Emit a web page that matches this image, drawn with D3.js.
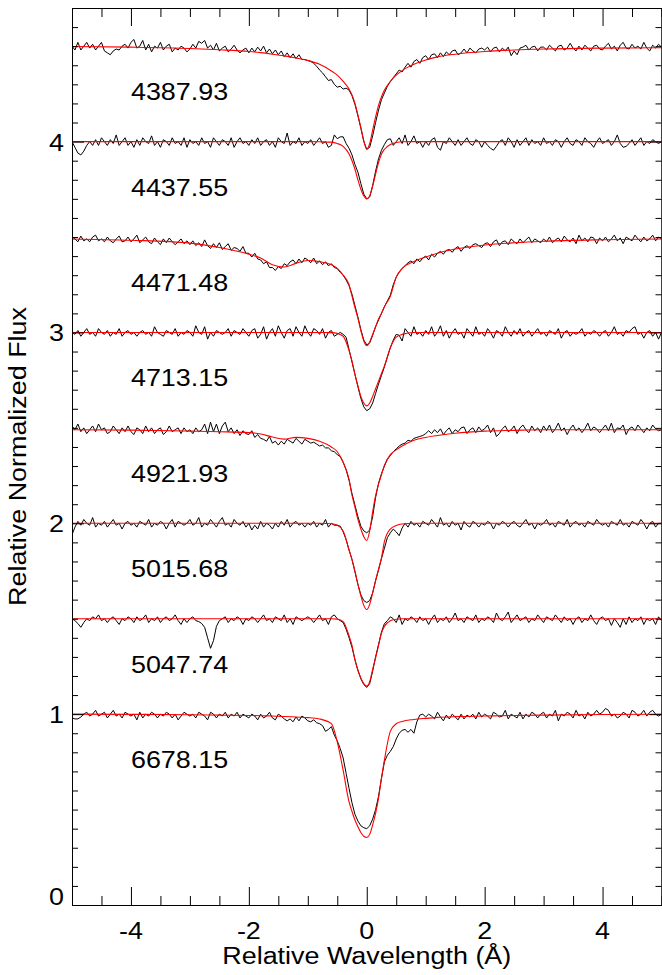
<!DOCTYPE html>
<html>
<head>
<meta charset="utf-8">
<script src="https://cdn.jsdelivr.net/npm/d3@7"></script>
<style>
  html, body { margin: 0; padding: 0; background: #fff; }
  svg { display: block; }
  text { font-family: "Liberation Sans", Arial, Helvetica, sans-serif; fill: #000; }
</style>
</head>
<body>
<script>
// ---------------- DATA ----------------
const lineLabels = ["4387.93", "4437.55", "4471.48", "4713.15", "4921.93", "5015.68", "5047.74", "6678.15"];
const levels = [4.5, 4.0, 3.5, 3.0, 2.5, 2.0, 1.5, 1.0];   // continuum level of each stacked profile

const xTickValues = [-4, -2, 0, 2, 4];
const yTickValues = [0, 1, 2, 3, 4];

// observed spectra: normalized flux sampled every 0.05 A from -5 to +5 (201 samples)
const obsStart = -5, obsStep = 0.05;

const obs4388 = [
  1.00, .98, 1.02, .98, 1.00, 1.02, .99, 1.01, .98, 1.00, 1.02, .975, .965, .955, .975, .985, .98, 1.00, 1.01, .99,
  1.02, 1.035, .99, 1.00, 1.03, .98, 1.01, .97, 1.00, .99, 1.02, .98, 1.00, 1.01, .97, .99, .98, 1.00, .99, .97,
  .985, 1.01, .99, 1.025, 1.015, 1.03, .99, 1.005, .98, 1.015, .975, .99, 1.00, .97, .985, 1.005, .98, .965, .98, .99,
  .965, .99, .97, .995, .975, 1.00, .965, .985, .96, .98, .955, .975, .945, .965, .94, .96, .935, .955, .93, .93,
  .925, .92, .91, .895, .875, .86, .84, .82, .825, .80, .785, .79, .775, .78, .77, .74, .695, .635, .57, .50,
  .46, .47, .53, .60, .665, .72, .755, .79, .815, .835, .855, .875, .865, .89, .91, .89, .92, .93, .91, .94,
  .95, .93, .955, .96, .94, .965, .945, .97, .955, .975, .98, .955, .965, .985, .965, .99, .975, .965, .985, .99,
  .98, .995, .97, .99, .995, .97, .99, .975, .995, .95, .975, .955, .99, .995, 1.005, .98, .995, 1.00, .975, .995,
  .995, .98, 1.005, .99, .975, 1.00, 1.005, .98, .99, 1.015, .99, .975, 1.00, .98, 1.005, .99, .975, 1.00, 1.005, .985,
  .98, 1.00, 1.015, .985, 1.00, .975, 1.005, 1.02, .99, .985, 1.01, .99, 1.00, .985, 1.02, .99, .975, 1.005, .99, 1.01,
  .995];

const obs4438 = [
  1.00, .97, .94, .93, .95, .98, 1.00, .98, 1.01, .98, 1.02, 1.00, .98, 1.01, .99, 1.035, .98, 1.00, 1.02, .98,
  1.00, .97, 1.01, .98, 1.02, 1.00, .99, 1.03, .98, 1.00, .97, 1.01, 1.00, .98, 1.02, .99, 1.00, .98, 1.02, .97,
  1.01, .99, 1.00, .98, 1.02, .99, 1.00, .97, 1.02, 1.00, .98, 1.01, 1.00, .98, 1.02, .97, 1.00, 1.02, .99, 1.00,
  .98, 1.01, .99, 1.02, .98, 1.00, 1.01, .98, 1.00, .97, 1.02, 1.00, .99, 1.045, .98, 1.00, .99, 1.02, .98, 1.00,
  .99, 1.01, .98, 1.00, 1.02, .99, 1.00, .97, .98, 1.035, 1.015, 1.025, 1.025, .99, .965, .93, .88, .84, .78, .725,
  .70, .71, .77, .845, .91, .955, .985, 1.01, 1.015, .98, 1.00, 1.02, .99, 1.035, .98, 1.00, 1.03, .99, 1.00, .97,
  1.00, .98, 1.01, 1.02, .97, .955, 1.00, .99, 1.02, 1.00, .98, 1.01, .98, 1.00, 1.02, .99, .98, 1.01, 1.00, .97,
  1.00, .98, .965, .955, .975, 1.00, 1.01, .98, 1.02, 1.00, .97, 1.01, .98, 1.00, 1.02, .98, 1.01, .99, 1.00, .98,
  1.02, .99, 1.00, .98, 1.01, 1.00, .97, 1.00, 1.02, .99, .98, 1.01, 1.00, .98, 1.02, 1.00, .99, .97, 1.00, 1.02,
  .99, 1.00, 1.01, .98, 1.00, 1.035, .99, .97, .975, .99, 1.01, .98, 1.00, 1.02, .98, 1.00, .99, 1.01, 1.00, .99,
  1.00];

const obs4471 = [
  1.00, .99, .975, 1.005, .98, .99, .975, 1.00, 1.01, .98, .99, .975, 1.00, .98, .97, .99, 1.005, .975, .98, 1.00,
  .975, .99, 1.01, .97, .985, 1.00, .975, .965, .995, .975, .96, .99, .97, .995, .975, .96, .975, .99, .965, .98,
  .96, .98, .955, .97, .95, .985, .955, .94, .965, .945, .97, .935, .95, .965, .93, .945, .94, .925, .95, .915,
  .915, .895, .915, .885, .88, .86, .87, .84, .84, .825, .845, .835, .86, .85, .87, .88, .86, .885, .865, .89,
  .88, .865, .89, .86, .875, .855, .87, .85, .86, .84, .835, .815, .80, .775, .745, .70, .64, .58, .515, .46,
  .435, .445, .485, .53, .565, .60, .635, .665, .695, .75, .79, .815, .835, .85, .865, .875, .86, .885, .87, .89,
  .90, .88, .91, .895, .915, .925, .91, .93, .935, .92, .94, .95, .925, .945, .955, .94, .96, .965, .955, .945,
  .965, .97, .95, .975, .985, .955, .975, .98, .96, .99, .975, .965, .99, .97, .985, 1.00, .97, .99, .98, .97,
  .99, .975, 1.00, .97, .985, .995, .975, 1.005, .985, .975, .995, .965, 1.01, .98, .995, .975, 1.00, .995, .965, .995,
  .98, 1.00, .975, .99, 1.01, .98, .995, .965, 1.00, .99, .98, 1.01, .99, .975, 1.00, .98, .99, 1.01, .98, 1.00,
  .99];

const obs4713 = [
  1.00, .99, 1.01, .98, 1.00, 1.02, .99, 1.00, .98, 1.02, 1.00, .99, 1.01, .98, 1.00, .99, 1.02, .98, 1.00, 1.01,
  .99, 1.00, .98, 1.00, 1.01, .99, 1.00, .98, 1.03, 1.00, .99, .98, 1.01, 1.00, .99, 1.02, .98, 1.00, .99, 1.01,
  1.00, .98, 1.035, 1.00, .99, 1.03, .965, 1.00, .98, 1.01, 1.00, .99, 1.00, 1.02, .98, 1.01, 1.00, .99, 1.02, 1.00,
  .98, 1.01, 1.02, .97, .99, 1.03, .965, 1.00, 1.02, .98, 1.035, 1.00, .97, 1.01, 1.02, .98, 1.03, 1.00, .98, 1.035,
  1.00, .98, 1.02, 1.01, .99, 1.02, .97, 1.00, 1.01, .98, .99, 1.00, .99, .975, .91, .845, .78, .715, .655, .61,
  .59, .60, .63, .68, .73, .775, .82, .87, .92, .96, .99, .985, .955, 1.02, 1.00, .98, 1.03, .99, 1.00, .98,
  1.01, .99, 1.03, .98, 1.00, 1.035, .98, 1.01, .97, 1.00, 1.02, .99, 1.00, .97, 1.02, 1.00, .98, 1.03, .99, 1.00,
  .98, 1.02, 1.00, .97, 1.01, 1.00, .98, 1.03, 1.00, .98, 1.01, .99, 1.02, .98, 1.00, 1.01, .98, 1.00, 1.02, .99,
  1.00, .98, 1.01, 1.00, .99, 1.02, .97, 1.00, 1.01, .98, 1.00, .99, 1.00, 1.02, .98, 1.00, .99, 1.01, 1.00, .98,
  1.00, 1.01, .98, 1.00, 1.03, .99, 1.00, .98, 1.01, 1.00, 1.02, 1.03, .99, 1.00, .97, 1.00, 1.01, .98, 1.00, .965,
  1.00];

const obs4922 = [
  1.01, .99, 1.02, .98, 1.00, .97, .99, 1.01, .98, 1.02, .99, 1.00, .97, .98, 1.01, .99, .97, 1.00, .98, 1.01,
  .98, .965, 1.00, .99, .97, 1.01, .98, 1.00, .97, .99, 1.00, .965, .98, 1.01, .98, .99, 1.00, .97, 1.00, .98,
  .99, .97, 1.00, .98, .99, 1.02, .97, 1.03, .98, 1.02, .97, 1.01, 1.03, .98, 1.00, .97, .99, .96, .985, .97,
  .965, .985, .95, .965, .945, .94, .93, .955, .92, .93, .91, .93, .915, .94, .93, .92, .945, .93, .915, .94,
  .93, .92, .925, .915, .905, .91, .895, .895, .88, .875, .86, .85, .82, .78, .725, .655, .595, .535, .485, .46,
  .45, .465, .535, .635, .71, .76, .80, .835, .855, .875, .89, .905, .915, .92, .935, .93, .945, .95, .955, .96,
  .97, .985, .97, .99, .975, .995, .965, .985, 1.00, .97, .99, .98, 1.00, 1.005, .97, .99, 1.00, .975, 1.005, .985,
  .995, 1.015, .975, 1.00, .955, .97, .995, 1.01, .98, .99, 1.01, .97, 1.00, 1.015, .99, .975, 1.01, .985, 1.00, .975,
  1.01, .985, 1.015, .975, .995, 1.025, .985, 1.00, .965, .995, 1.015, .985, 1.00, .975, .995, 1.025, .985, 1.005, .995, .975,
  .995, 1.015, .985, 1.025, .975, 1.00, .995, 1.015, .965, .995, 1.005, .985, 1.015, .995, .975, 1.00, .985, 1.015, .995, .985,
  .99];

const obs5016 = [
  .94, .98, 1.01, .99, 1.02, 1.00, .99, 1.03, .98, 1.00, .99, 1.01, .98, 1.00, 1.02, .99, 1.00, .97, 1.00, 1.01,
  .99, 1.00, .98, 1.01, 1.00, .99, 1.02, .98, 1.00, .99, 1.01, 1.00, .97, 1.00, 1.02, .98, 1.01, 1.00, .99, 1.00,
  1.02, .99, 1.00, 1.03, .98, 1.00, .99, 1.02, 1.00, .98, 1.01, 1.03, .99, 1.00, .98, 1.02, 1.00, .99, 1.01, .98,
  1.00, .965, .99, .97, 1.01, .98, 1.00, .99, .97, 1.00, .98, 1.01, .99, 1.02, .98, 1.00, 1.01, .99, 1.00, .98,
  1.00, .99, 1.01, .98, 1.00, .99, 1.02, .98, 1.00, .99, .99, .985, .955, .915, .86, .81, .745, .68, .625, .595,
  .585, .595, .635, .70, .755, .815, .87, .925, .95, .97, .955, .935, .975, 1.00, .98, 1.01, .99, 1.00, .98, 1.01,
  1.00, .99, 1.02, 1.00, .98, 1.03, .99, 1.00, .98, 1.01, .99, 1.00, .965, 1.01, .99, .98, 1.01, 1.00, .98, 1.00,
  .99, 1.01, 1.00, .97, 1.00, .99, 1.01, 1.00, .98, 1.00, 1.01, .99, .98, 1.00, 1.02, .99, 1.00, .97, 1.00, .99,
  1.00, 1.02, .99, 1.00, .98, 1.01, 1.00, .99, 1.02, .98, 1.00, 1.01, .99, 1.00, .98, 1.01, 1.00, .99, 1.02, 1.00,
  .99, 1.00, .98, 1.01, 1.00, .99, 1.02, .99, 1.00, .98, 1.01, 1.00, .99, 1.02, 1.00, .97, 1.00, 1.01, .98, 1.00,
  1.00];

const obs5048 = [
  1.00, .99, .975, .955, .98, 1.00, .99, 1.01, 1.00, 1.02, .99, 1.00, .98, 1.00, 1.01, .99, .97, 1.00, .99, 1.01,
  1.00, .98, 1.01, .99, 1.00, 1.02, .98, 1.00, .99, 1.01, .98, 1.00, 1.01, .99, 1.00, 1.02, .99, .97, 1.00, .98,
  1.00, 1.01, .99, .985, .975, .955, .90, .845, .885, .96, .99, 1.00, 1.01, .98, 1.00, .99, 1.01, 1.00, .97, 1.00,
  .99, 1.01, 1.00, .98, 1.00, 1.02, .99, 1.00, .98, 1.01, 1.00, .99, 1.02, .98, 1.00, .97, 1.01, 1.00, .99, 1.00,
  1.01, 1.00, .98, 1.00, 1.02, .99, 1.00, .97, 1.01, 1.02, 1.00, .99, .98, .945, .90, .85, .785, .73, .685, .655,
  .64, .66, .725, .80, .865, .93, .975, .99, 1.01, 1.00, .98, 1.02, .97, 1.00, .99, 1.01, 1.00, .98, 1.01, .99,
  1.00, .97, 1.00, 1.02, .98, 1.00, .99, 1.01, .98, 1.00, 1.03, .99, 1.00, .98, 1.01, 1.00, .99, 1.02, .98, 1.00,
  .99, 1.01, 1.00, .98, 1.03, 1.00, .99, 1.01, 1.035, .98, 1.00, 1.02, .99, 1.00, 1.01, .98, 1.00, .99, 1.02, 1.00,
  .98, 1.01, 1.00, .99, 1.02, 1.00, .98, 1.01, .99, 1.00, .97, 1.00, 1.01, .98, 1.00, .99, 1.02, .99, .97, 1.00,
  1.01, .99, 1.00, .965, 1.00, .98, .955, 1.00, .97, 1.01, .98, 1.00, .99, 1.01, .97, 1.00, .99, 1.00, .97, 1.01,
  .99];

const obs6678 = [
  .98, .975, .975, .985, 1.00, 1.01, .99, 1.00, 1.02, .99, 1.00, 1.01, .98, 1.00, 1.02, .99, 1.00, .98, 1.01, 1.00,
  .99, 1.00, .97, 1.01, .98, 1.00, .99, 1.01, 1.00, .98, 1.00, .99, 1.01, 1.00, .98, 1.00, .97, .99, 1.01, 1.00,
  .99, 1.00, .98, 1.01, 1.00, .99, .97, 1.01, 1.00, .98, 1.00, .99, 1.01, .98, 1.00, .99, 1.01, .98, 1.00, .99,
  .98, 1.00, .99, .97, 1.00, .98, .99, 1.01, .98, .97, 1.00, .99, .975, .965, .975, .96, .985, .965, .99, .98,
  .965, .96, .97, .955, .95, .94, .91, .92, .935, .89, .86, .82, .77, .69, .61, .535, .475, .44, .415, .405,
  .40, .415, .45, .50, .57, .665, .75, .785, .805, .83, .87, .90, .915, .92, .905, .92, .90, .96, .995, 1.00,
  .985, 1.00, .99, .975, 1.01, .985, .965, .995, .975, 1.00, .985, .97, 1.00, .975, .995, .985, 1.00, .975, 1.01, .985,
  1.00, .99, .975, 1.01, 1.00, .985, .99, 1.02, .975, 1.00, .99, .98, 1.01, .975, 1.00, .985, 1.01, 1.00, .98, 1.00,
  1.01, .98, 1.00, .99, 1.02, .965, 1.00, .99, 1.01, 1.00, .98, 1.02, .99, 1.00, .975, 1.01, .99, 1.00, 1.02, 1.00,
  1.01, 1.03, 1.02, .99, 1.00, .98, .99, 1.01, 1.00, .98, 1.02, 1.01, .99, 1.00, 1.02, .99, 1.01, 1.02, 1.00, .99,
  1.00];

// model (fit) profiles: normalized flux at these wavelengths
const modelX = [-5, -4, -3, -2.5, -2, -1.8, -1.6, -1.4, -1.2, -1, -0.8, -0.6, -0.5, -0.4, -0.3,
  -0.25, -0.2, -0.15, -0.1, -0.05, 0, 0.05, 0.1, 0.15, 0.2, 0.25, 0.3, 0.4, 0.5, 0.6, 0.8, 1,
  1.2, 1.5, 2, 2.5, 3, 4, 5];

const mod4388 = [.998, .995, .988, .981, .972, .966, .958, .949, .938, .925, .905, .87, .848, .815, .775,
  .745, .70, .64, .575, .505, .46, .49, .56, .63, .69, .735, .77, .815, .848, .872, .905, .928,
  .944, .958, .972, .98, .985, .99, .992];
const mod4438 = [1, 1, 1, 1, 1, 1, 1, 1, 1, 1, .999, .997, .99, .975, .935,
  .90, .855, .80, .75, .715, .70, .715, .765, .83, .89, .935, .96, .985, .995, .999, 1, 1,
  1, 1, 1, 1, 1, 1, 1];
const mod4471 = [.99, .983, .968, .945, .91, .89, .855, .843, .862, .877, .871, .855, .836, .80, .75,
  .69, .63, .575, .51, .455, .43, .45, .49, .53, .57, .60, .635, .69, .79, .835, .872, .895,
  .915, .937, .958, .97, .978, .986, .99];
const mod4713 = [1, 1, 1, 1, 1, 1, 1, 1, 1, 1, 1, .999, .995, .98, .905,
  .85, .78, .72, .665, .63, .615, .63, .665, .705, .745, .785, .825, .92, .975, .99, 1, 1,
  1, 1, 1, 1, 1, 1, 1];
const mod4922 = [.99, .988, .983, .98, .975, .968, .952, .941, .95, .945, .93, .90, .875, .82, .73,
  .647, .585, .52, .47, .43, .41, .46, .56, .645, .705, .755, .805, .86, .885, .905, .935, .95,
  .96, .972, .983, .987, .99, .99, .99];
const mod5016 = [1, 1, 1, 1, 1, 1, 1, 1, 1, 1, 1, .998, .99, .96, .86,
  .81, .75, .68, .62, .57, .548, .575, .635, .70, .76, .82, .905, .97, .988, .996, 1, 1,
  1, 1, 1, 1, 1, 1, 1];
const mod5048 = [1, 1, 1, 1, 1, 1, 1, 1, 1, 1, 1, 1, .998, .985, .91,
  .86, .785, .73, .69, .66, .647, .67, .735, .795, .86, .925, .96, .99, .997, 1, 1, 1,
  1, 1, 1, 1, 1, 1, 1];
const mod6678 = [1.0, .999, .997, .995, .993, .992, .99, .988, .985, .982, .975, .95, .855, .705, .54,
  .49, .445, .41, .38, .36, .354, .37, .42, .48, .56, .665, .76, .91, .95, .962, .972, .978,
  .983, .987, .99, .993, .995, .998, 1.0];

const observed = [obs4388, obs4438, obs4471, obs4713, obs4922, obs5016, obs5048, obs6678];
const models   = [mod4388, mod4438, mod4471, mod4713, mod4922, mod5016, mod5048, mod6678];

// ---------------- CHART ----------------
const W = 662, H = 975;
const margin = { left: 72, right: 0.5, top: 8, bottom: 70 };
const svg = d3.select("body").append("svg").attr("width", W).attr("height", H);
svg.append("rect").attr("width", W).attr("height", H).attr("fill", "#fff");

const x = d3.scaleLinear().domain([-5, 5]).range([margin.left, W - margin.right]);
const y = d3.scaleLinear().domain([0, 4.7]).range([H - margin.bottom, margin.top]);

const FS = 23, SX = 1.17;  // font size and horizontal stretch of the lettering

const plot = svg.append("g");
plot.append("clipPath").attr("id", "clip").append("rect")
  .attr("x", x(-5)).attr("y", y(4.7)).attr("width", x(5) - x(-5)).attr("height", y(0) - y(4.7));
const g = plot.append("g").attr("clip-path", "url(#clip)");

const lineObs = d3.line().x(d => x(d[0])).y(d => y(d[1]));
const lineMod = d3.line().x(d => x(d[0])).y(d => y(d[1])).curve(d3.curveMonotoneX);

observed.forEach((arr, i) => {
  const shift = levels[i] - 1;
  const pts = arr.map((v, k) => [obsStart + k * obsStep, v + shift]);
  g.append("path").attr("d", lineObs(pts))
    .attr("fill", "none").attr("stroke", "#000").attr("stroke-width", 1);
});
models.forEach((arr, i) => {
  const shift = levels[i] - 1;
  const pts = arr.map((v, k) => [modelX[k], v + shift]);
  g.append("path").attr("d", lineMod(pts))
    .attr("fill", "none").attr("stroke", "#ff0000").attr("stroke-width", 1.1);
});

// line labels
lineLabels.forEach((t, i) => {
  svg.append("text")
    .attr("transform", `translate(${x(-4)},${y(levels[i] - 0.283)}) scale(${SX},1)`)
    .attr("font-size", FS).text(t);
});

// axes (ticks point inward)
const xMinor = d3.range(-5, 5.001, 0.5).filter(v => !xTickValues.includes(v));
const yMinor = d3.range(0, 4.701, 0.1).map(v => Math.round(v * 10) / 10).filter(v => !yTickValues.includes(v));

function styleAxis(sel) {
  sel.selectAll("path.domain").attr("stroke", "#000").attr("stroke-width", 1);
  sel.selectAll(".tick line").attr("stroke", "#000").attr("stroke-width", 1);
  sel.selectAll("text").remove();
}
const bottomY = y(0), topY = y(4.7), leftX = x(-5), rightX = x(5);

svg.append("g").attr("transform", `translate(0,${bottomY})`)
  .call(d3.axisBottom(x).tickValues(xTickValues).tickSizeInner(-18).tickSizeOuter(0).tickFormat("")).call(styleAxis);
svg.append("g").attr("transform", `translate(0,${bottomY})`)
  .call(d3.axisBottom(x).tickValues(xMinor).tickSizeInner(-9).tickSizeOuter(0).tickFormat("")).call(styleAxis);
svg.append("g").attr("transform", `translate(0,${topY})`)
  .call(d3.axisTop(x).tickValues(xTickValues).tickSizeInner(-18).tickSizeOuter(0).tickFormat("")).call(styleAxis);
svg.append("g").attr("transform", `translate(0,${topY})`)
  .call(d3.axisTop(x).tickValues(xMinor).tickSizeInner(-9).tickSizeOuter(0).tickFormat("")).call(styleAxis);
svg.append("g").attr("transform", `translate(${leftX},0)`)
  .call(d3.axisLeft(y).tickValues(yTickValues).tickSizeInner(-12).tickSizeOuter(0).tickFormat("")).call(styleAxis);
svg.append("g").attr("transform", `translate(${leftX},0)`)
  .call(d3.axisLeft(y).tickValues(yMinor).tickSizeInner(-6).tickSizeOuter(0).tickFormat("")).call(styleAxis);
svg.append("g").attr("transform", `translate(${rightX},0)`)
  .call(d3.axisRight(y).tickValues(yTickValues).tickSizeInner(-12).tickSizeOuter(0).tickFormat("")).call(styleAxis);
svg.append("g").attr("transform", `translate(${rightX},0)`)
  .call(d3.axisRight(y).tickValues(yMinor).tickSizeInner(-6).tickSizeOuter(0).tickFormat("")).call(styleAxis);

// tick labels
xTickValues.forEach(v => {
  svg.append("text")
    .attr("transform", `translate(${x(v)},${bottomY + 34}) scale(${SX},1)`)
    .attr("text-anchor", "middle").attr("font-size", FS).text(String(v));
});
yTickValues.forEach(v => {
  const yy = v === 0 ? y(v) : y(v) + 9;
  svg.append("text")
    .attr("transform", `translate(${leftX - 8},${yy}) scale(${SX},1)`)
    .attr("text-anchor", "end").attr("font-size", FS).text(String(v));
});

// axis titles
svg.append("text")
  .attr("transform", `translate(${(leftX + rightX) / 2},${bottomY + 59}) scale(${SX},1)`)
  .attr("text-anchor", "middle").attr("font-size", FS).text("Relative Wavelength (Å)");
svg.append("text")
  .attr("transform", `translate(26,${(topY + bottomY) / 2}) rotate(-90) scale(${SX},1)`)
  .attr("text-anchor", "middle").attr("font-size", FS).text("Relative Normalized Flux");
</script>
</body>
</html>
